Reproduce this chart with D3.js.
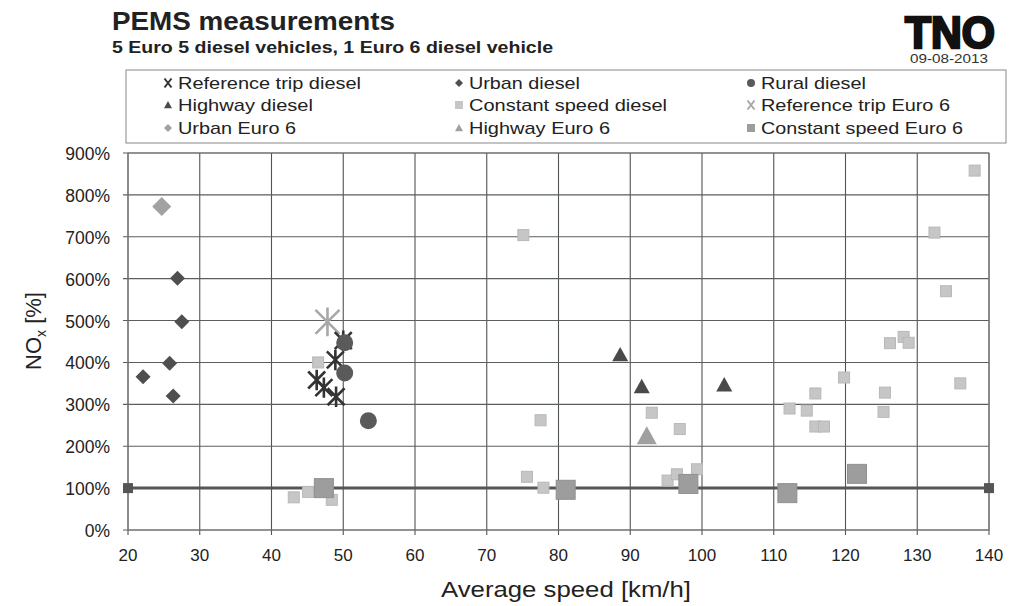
<!DOCTYPE html>
<html><head><meta charset="utf-8">
<script src="https://cdn.jsdelivr.net/npm/d3@7"></script>
<style>
body{margin:0;background:#fff;}
text{font-family:"Liberation Sans",Arial,sans-serif;}
</style></head>
<body><svg id="c" width="1020" height="606"></svg>
<script>
// ---- data ----
const xTicks = [20,30,40,50,60,70,80,90,100,110,120,130,140];
const yTicks = [0,100,200,300,400,500,600,700,800,900];
const refTripDiesel = [[46.3,358],[47.3,340],[49.0,318],[48.9,406],[50.0,452]];
const urbanDiesel = [[22.1,366],[25.8,398],[26.3,320],[26.9,601],[27.5,497]];
const ruralDiesel = [[50.2,447],[50.2,375],[53.5,261]];
const highwayDiesel = [[88.6,418],[91.6,342],[103.1,346]];
const constDiesel = [[43.1,78],[45.1,91],[48.4,72],[46.5,400],[75.1,704],[75.6,127],[77.5,262],[77.9,101],
  [93.0,280],[96.9,241],[95.2,118],[96.5,133],[99.3,145],
  [112.2,290],[114.6,285],[115.8,326],[115.8,247],[117.0,247],[119.8,364],[125.3,282],[125.5,328],
  [126.2,446],[128.1,461],[128.8,447],[132.4,710],[134.0,570],[136.0,350],[138.0,858]];
const refTripEuro6 = [[47.8,497]];
const urbanEuro6 = [[24.7,772]];
const highwayEuro6 = [[92.3,224]];
const constEuro6 = [[47.3,100],[81.0,96],[98.1,110],[111.9,88],[121.6,134]];
const refLevel = 100;
const legendLabels = ["Reference trip diesel","Urban diesel","Rural diesel","Highway diesel","Constant speed diesel","Reference trip Euro 6","Urban Euro 6","Highway Euro 6","Constant speed Euro 6"];

const svg = d3.select("#c");
const L=128,R=989,T=153,B=530;
const x = d3.scaleLinear().domain([20,140]).range([L,R]);
const y = d3.scaleLinear().domain([0,900]).range([B,T]);

// title
svg.append("text").attr("x",112).attr("y",30).attr("font-size",26).attr("font-weight","bold").attr("fill","#222")
  .attr("textLength",283).attr("lengthAdjust","spacingAndGlyphs").text("PEMS measurements");
svg.append("text").attr("x",112).attr("y",53).attr("font-size",16.5).attr("font-weight","bold").attr("fill","#222")
  .attr("textLength",441).attr("lengthAdjust","spacingAndGlyphs").text("5 Euro 5 diesel vehicles, 1 Euro 6 diesel vehicle");
svg.append("text").attr("x",905).attr("y",48).attr("font-size",44).attr("font-weight","900").attr("fill","#111")
  .attr("stroke","#111").attr("stroke-width",2.5).attr("textLength",90).attr("lengthAdjust","spacingAndGlyphs").text("TNO");
svg.append("text").attr("x",910).attr("y",63).attr("font-size",12.5).attr("fill","#333")
  .attr("textLength",78).attr("lengthAdjust","spacingAndGlyphs").text("09-08-2013");

// grid
const g = svg.append("g");
g.selectAll(".vg").data(xTicks).join("line").attr("x1",d=>x(d)).attr("x2",d=>x(d)).attr("y1",T).attr("y2",B+5).attr("stroke","#4f554f").attr("stroke-width",1.1);
g.selectAll(".hg").data(yTicks).join("line").attr("x1",L-5).attr("x2",R).attr("y1",d=>y(d)).attr("y2",d=>y(d)).attr("stroke","#5a5f5a").attr("stroke-width",1.1);
g.append("rect").attr("x",L).attr("y",T).attr("width",R-L).attr("height",B-T).attr("fill","none").attr("stroke","#777");

// axes labels
svg.selectAll(".yl").data(yTicks).join("text").attr("x",110).attr("y",d=>y(d)+7).attr("text-anchor","end").attr("font-size",17.5).attr("fill","#222").text(d=>d+"%");
svg.selectAll(".xl").data(xTicks).join("text").attr("x",d=>x(d)).attr("y",561).attr("text-anchor","middle").attr("font-size",17).attr("fill","#222").text(d=>d);
svg.append("text").attr("x",441).attr("y",597).attr("font-size",22).attr("fill","#222")
  .attr("textLength",250).attr("lengthAdjust","spacingAndGlyphs").text("Average speed [km/h]");
const yt = svg.append("text").attr("transform","translate(41,331) rotate(-90)").attr("text-anchor","middle").attr("font-size",22).attr("fill","#222");
yt.append("tspan").text("NO");
yt.append("tspan").attr("font-size",14).attr("dy",5).text("x");
yt.append("tspan").attr("dy",-5).text(" [%]");

// reference line
svg.append("line").attr("x1",x(20)).attr("x2",x(140)).attr("y1",y(refLevel)).attr("y2",y(refLevel)).attr("stroke","#555").attr("stroke-width",3);
svg.selectAll(".rs").data([20,140]).join("rect").attr("x",d=>x(d)-5).attr("y",y(refLevel)-5).attr("width",10).attr("height",10).attr("fill","#555");

// marker drawing helpers
function star(s){const h=s/2;return `M${-h},${-h}L${h},${h}M${-h},${h}L${h},${-h}M0,${-h*1.2}L0,${h*1.2}`;}
function draw(sel,type,size,fill,stroke){
  if(type==="star"){sel.append("path").attr("d",star(size)).attr("stroke",fill).attr("stroke-width",2.6).attr("fill","none");}
  else if(type==="diamond"){const h=size/2;sel.append("path").attr("d",`M0,${-h}L${h},0L0,${h}L${-h},0Z`).attr("fill",fill).attr("stroke",stroke||"none");}
  else if(type==="circle"){sel.append("circle").attr("r",size/2).attr("fill",fill);}
  else if(type==="tri"){const h=size/2;sel.append("path").attr("d",`M0,${-h}L${h},${h*0.8}L${-h},${h*0.8}Z`).attr("fill",fill);}
  else if(type==="square"){const h=size/2;sel.append("rect").attr("x",-h).attr("y",-h).attr("width",size).attr("height",size).attr("fill",fill).attr("stroke",stroke||"none");}
}
const series = [
  {d:constDiesel,t:"square",s:11,f:"#c6c6c6",st:"#b8b8b8"},
  {d:constEuro6,t:"square",s:19,f:"#9d9d9d",st:"#909090"},
  {d:urbanEuro6,t:"diamond",s:19,f:"#a2a2a2"},
  {d:urbanDiesel,t:"diamond",s:15,f:"#4f4f4f"},
  {d:highwayDiesel,t:"tri",s:16,f:"#4a4a4a"},
  {d:highwayEuro6,t:"tri",s:20,f:"#a0a0a0"},
  {d:refTripEuro6,t:"star",s:24,f:"#a8a8a8"},
  {d:refTripDiesel,t:"star",s:17,f:"#333"},
  {d:ruralDiesel,t:"circle",s:17,f:"#5a5a5a"},
];
series.forEach(ser=>{
  ser.d.forEach(p=>{const gg=svg.append("g").attr("transform",`translate(${x(p[0])},${y(p[1])})`);draw(gg,ser.t,ser.s,ser.f,ser.st);});
});

// legend
svg.append("rect").attr("x",126).attr("y",70).attr("width",880).attr("height",73).attr("fill","#fff").attr("stroke","#888");
const legSpec = [
  {t:"star",f:"#333"},{t:"diamond",f:"#4f4f4f"},{t:"circle",f:"#5a5a5a"},
  {t:"tri",f:"#4a4a4a"},{t:"square",f:"#c6c6c6"},{t:"star",f:"#a8a8a8"},
  {t:"diamond",f:"#a2a2a2"},{t:"tri",f:"#a0a0a0"},{t:"square",f:"#9d9d9d"}];
const legW = [183,111,105,135,198,189,118,141,202];
const colX=[168,459,751], rowY=[83,105,128];
legendLabels.forEach((lab,i)=>{
  const cx=colX[i%3], cy=rowY[Math.floor(i/3)];
  const gg=svg.append("g").attr("transform",`translate(${cx},${cy})`);
  const sp=legSpec[i];
  if(sp.t==="star"){gg.append("path").attr("d","M-3.5,-4.5L3.5,4.5M-3.5,4.5L3.5,-4.5").attr("stroke",sp.f).attr("stroke-width",2);}
  else draw(gg,sp.t,8,sp.f);
  svg.append("text").attr("x",cx+10).attr("y",cy+6).attr("font-size",17).attr("fill","#222")
    .attr("textLength",legW[i]).attr("lengthAdjust","spacingAndGlyphs").text(lab);
});
</script></body></html>
